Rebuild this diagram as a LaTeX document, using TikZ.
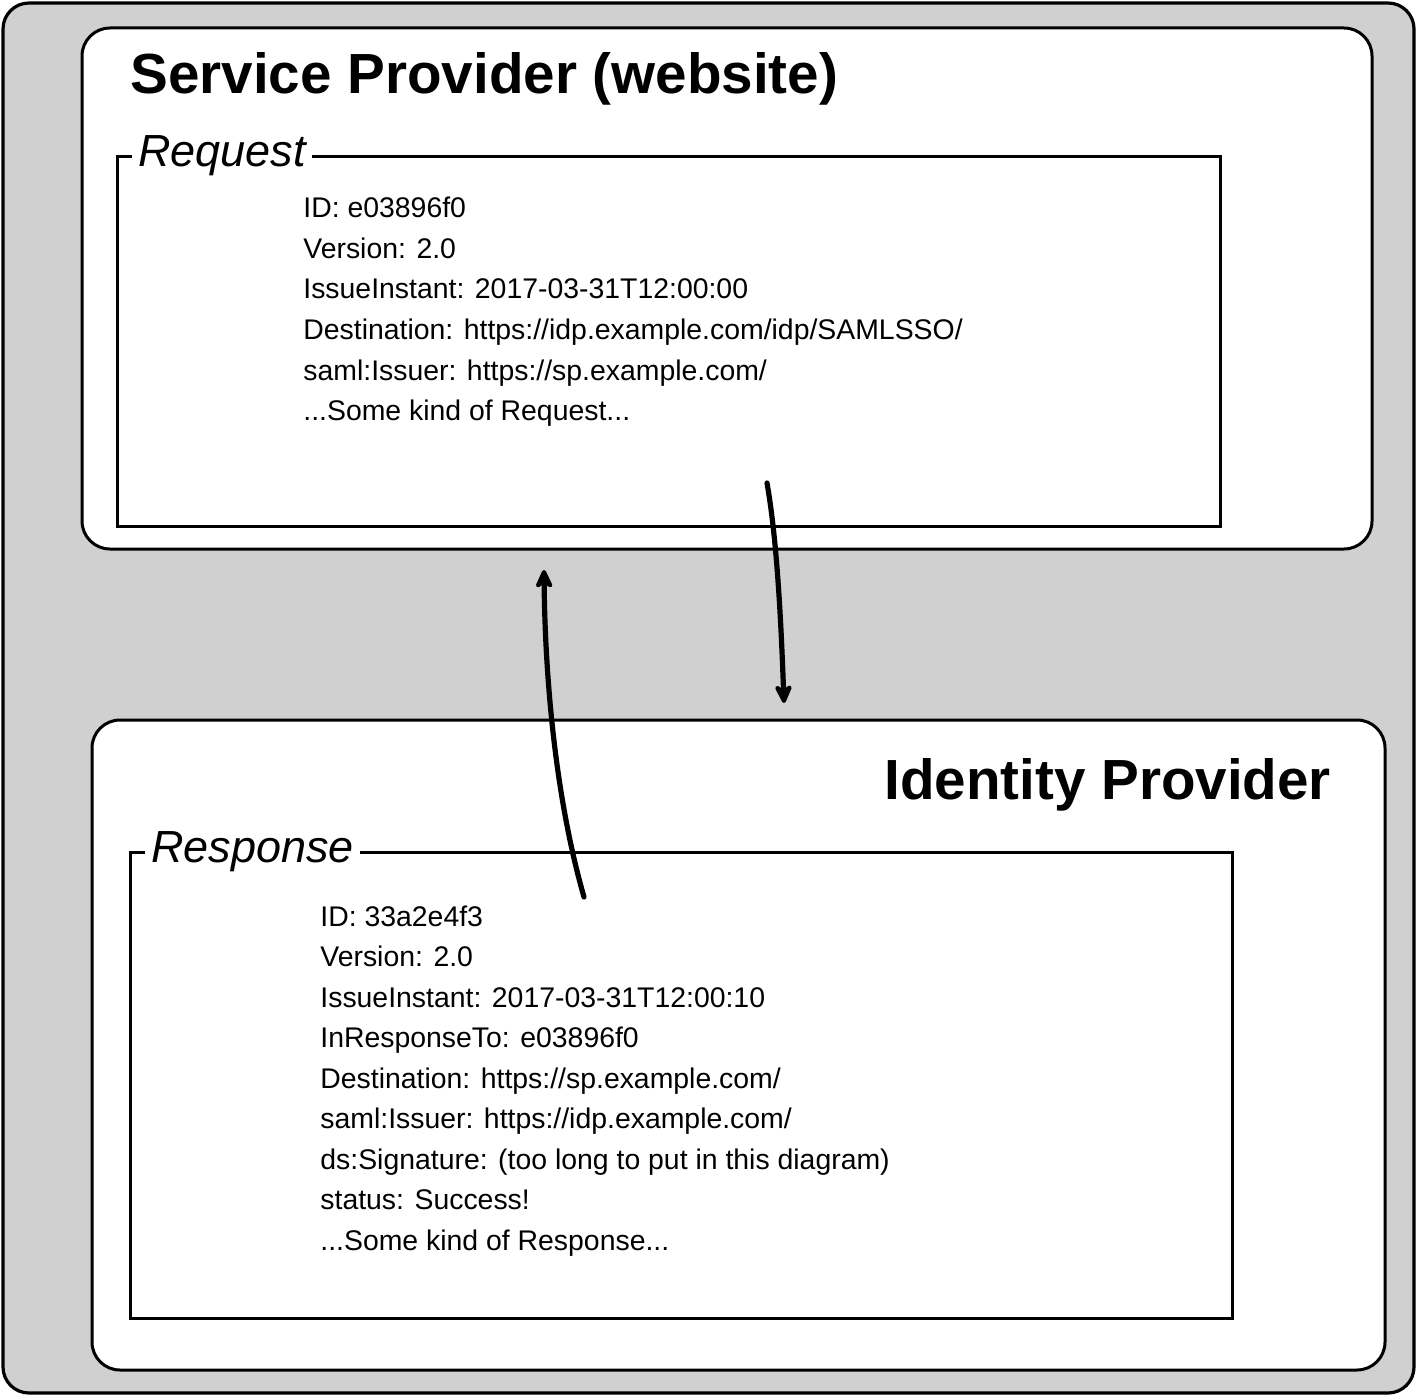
\documentclass[tikz,border=0pt]{standalone}
\usepackage{fontspec}
\setmainfont{Liberation Sans}
\usetikzlibrary{arrows.meta}
\definecolor{bggray}{HTML}{D0D0D0}
\begin{document}
\begin{tikzpicture}[x=0.5pt,y=-0.5pt,
  outerbox/.style={draw=black,line width=1.6pt,fill=bggray,rounded corners=13pt},
  panel/.style={draw=black,line width=1.5pt,fill=white,rounded corners=14pt},
  frame/.style={draw=black,line width=1.5pt},
  frametitle/.style={fill=white,inner xsep=3pt,inner ysep=1pt,anchor=base west,font=\fontsize{22.5}{25}\selectfont\itshape},
  bigtitle/.style={anchor=base west,inner sep=0pt,font=\fontsize{28.3}{31}\selectfont\bfseries},
  body/.style={anchor=base west,inner sep=0pt,font=\fontsize{14.2}{17}\selectfont},
  flow/.style={line width=2.6pt,-{Stealth[length=12pt,width=11pt,round]},line cap=round}
]
\useasboundingbox (0,0) rectangle (1418,1396);
% outer
\path[outerbox] (3,3) rectangle (1414,1393);
% panels
\path[panel] (82,28) rectangle (1372,549);
\path[panel] (92,720) rectangle (1385,1370);
% titles
\node[bigtitle] (sptitle) at (130,94) {Service Provider (website)};
\node[bigtitle] (idptitle) at (884,799) {Identity Provider};
% request frame
\draw[frame] (117,157) rectangle (1220,526);
\node[frametitle] (reqtitle) at (132,167) {Request};
% response frame
\draw[frame] (130,852) rectangle (1232,1318);
\node[frametitle] (restitle) at (145,862) {Response};
% request lines
\node[body] (r1) at (303,218) {ID: e03896f0};
\node[body] (r2) at (303,258) {Version: 2.0};
\node[body] (r3) at (303,299) {IssueInstant: 2017-03-31T12:00:00};
\node[body] (r4) at (303,339) {Destination: https://idp.example.com/idp/SAMLSSO/};
\node[body] (r5) at (303,380) {saml:Issuer: https://sp.example.com/};
\node[body] (r6) at (303,420) {...Some kind of Request...};
% response lines
\node[body] (s1) at (320,926) {ID: 33a2e4f3};
\node[body] (s2) at (320,966) {Version: 2.0};
\node[body] (s3) at (320,1007) {IssueInstant: 2017-03-31T12:00:10};
\node[body] (s4) at (320,1047) {InResponseTo: e03896f0};
\node[body] (s5) at (320,1088) {Destination: https://sp.example.com/};
\node[body] (s6) at (320,1128) {saml:Issuer: https://idp.example.com/};
\node[body] (s7) at (320,1169) {ds:Signature: (too long to put in this diagram)};
\node[body] (s8) at (320,1209) {status: Success!};
\node[body] (s9) at (320,1250) {...Some kind of Response...};
% arrows
\coordinate (downstart) at (767,483);
\coordinate (downend) at (784,703);
\coordinate (upstart) at (584,897);
\coordinate (upend) at (544,570);
\draw[flow] (downstart) .. controls (777,540) and (781,620) .. (downend);
\draw[flow] (upstart) .. controls (556,800) and (545,680) .. (upend);
\end{tikzpicture}
\end{document}
